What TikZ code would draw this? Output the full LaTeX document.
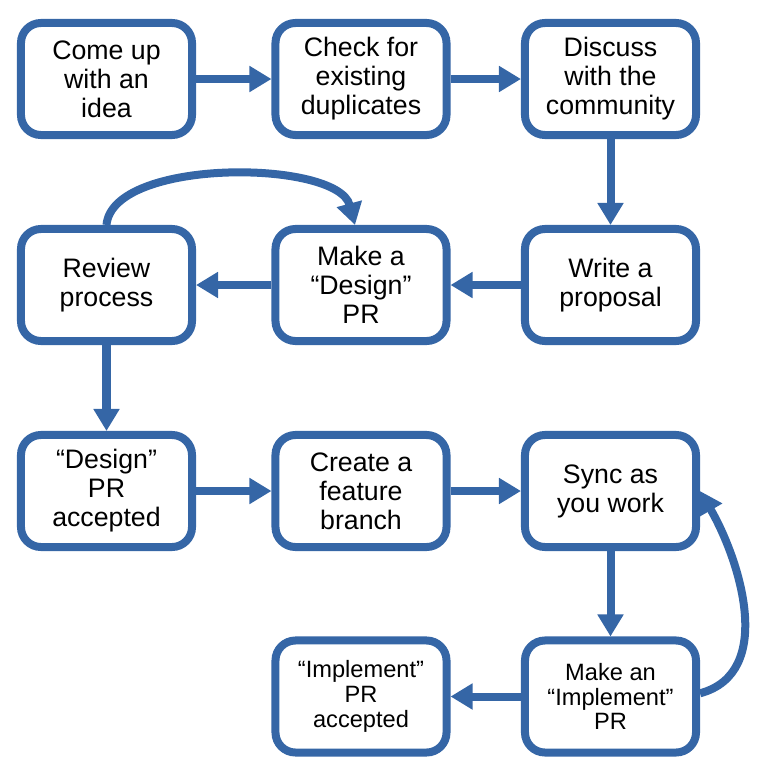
\documentclass[tikz,border=0pt]{standalone}
\usepackage{fontspec}
\setmainfont{Liberation Sans}
\usetikzlibrary{arrows.meta}
\definecolor{flowblue}{HTML}{3566A6}
\begin{document}
\begin{tikzpicture}[x=0.025cm, y=-0.025cm]
\tikzset{step box/.style={draw=flowblue, line width=0.2cm, rounded corners=0.5cm, fill=white,
  minimum width=4.275cm, minimum height=2.8cm, align=center,
  font=\fontsize{19}{20.6}\selectfont},
  small box/.style={step box, font=\fontsize{16.8}{17.6}\selectfont},
  flow/.style={draw=flowblue, line width=0.2cm, -{Triangle[length=0.55cm, width=0.62cm]}}}

\useasboundingbox (0,0) rectangle (761,778);

% First row
\node[step box] (idea) at (106.5,79) {Come up\\with an\\idea};
\node[step box] (dup) at (361,79) {Check for\\existing\\duplicates};
\node[step box] (disc) at (610.5,79) {Discuss\\with the\\community};

% Second row
\node[step box] (rev) at (106.5,285) {Review\\process};
\node[step box] (des) at (361,285) {Make a\\“Design”\\PR};
\node[step box] (prop) at (610.5,285) {Write a\\proposal};

% Third row
\node[step box] (desacc) at (106.5,491) {“Design”\\PR\\accepted};
\node[step box] (branch) at (361,491) {Create a\\feature\\branch};
\node[step box] (sync) at (610.5,491) {Sync as\\you work};

% Fourth row
\node[small box] (implacc) at (361,696.5) {“Implement”\\PR\\accepted};
\node[small box] (impl) at (610.5,696.5) {Make an\\“Implement”\\PR};

% Connections
\draw[flow] (idea) -- (dup);
\draw[flow] (dup) -- (disc);
\draw[flow] (disc) -- (prop);
\draw[flow] (prop) -- (des);
\draw[flow] (des) -- (rev);
\draw[flow] (rev.north) to[out=85, in=105, looseness=0.7] ([xshift=-0.15cm]des.north);
\draw[flow] (rev) -- (desacc);
\draw[flow] (desacc) -- (branch);
\draw[flow] (branch) -- (sync);
\draw[flow] (sync) -- (impl);
\draw[flow] (impl) -- (implacc);
\draw[flow] ([yshift=0.08cm]impl.east) to[out=15, in=-60] (sync.east);

\end{tikzpicture}
\end{document}
